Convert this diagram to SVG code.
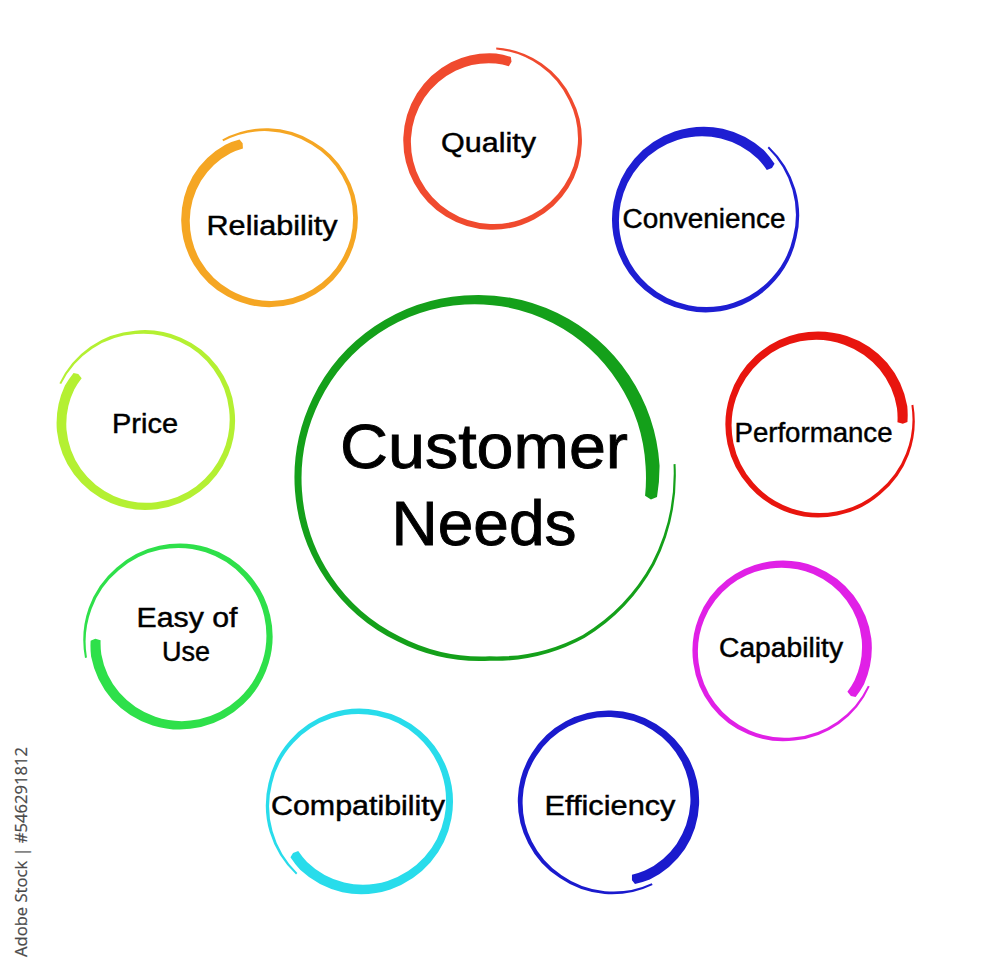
<svg xmlns="http://www.w3.org/2000/svg" xmlns:xlink="http://www.w3.org/1999/xlink" width="1000" height="969" viewBox="0 0 1000 969">
<style>
.lbl{font-family:"Liberation Sans",Arial,sans-serif;font-size:27px;fill:#000;stroke:#000;stroke-width:0.45px;text-anchor:middle}
.big{font-family:"Liberation Sans",Arial,sans-serif;font-size:63px;fill:#000;stroke:#000;stroke-width:0.9px;text-anchor:middle}
.wm{font-family:"Open Sans","DejaVu Sans",sans-serif;font-size:16.5px;fill:#4a4a4a;stroke:#4a4a4a;stroke-width:0.2px}
</style>
<defs>
<path id="brush" d="M97.5,0 A96.5,96.5 0 0 1 82.7,47.75 A94.4,94.4 0 0 1 46.63,80.76 A92.9,92.9 0 0 1 0,92.6 A92.5,92.5 0 0 1 -46.25,80.11 A92.4,92.4 0 0 1 -79.89,46.13 A92.4,92.4 0 0 1 -92.5,0 A92.6,92.6 0 0 1 -80.32,-46.38 A92.9,92.9 0 0 1 -46.55,-80.63 A93.3,93.3 0 0 1 0,-93.5 A93.5,93.5 0 0 1 46.75,-80.97 A93.2,93.2 0 0 1 80.54,-46.5 A92.1,92.1 0 0 1 91.25,0 A90.4,90.4 0 0 1 88.14,15.54 L83.2,16.4 L78.29,13.8 A80.1,80.1 0 0 0 80.75,0 A81.9,81.9 0 0 0 71.88,-41.5 A83.7,83.7 0 0 0 42.25,-73.18 A85,85 0 0 0 0,-85.5 A85.7,85.7 0 0 0 -42.95,-74.39 A86.1,86.1 0 0 0 -74.69,-43.13 A86.4,86.4 0 0 0 -86.5,0 A86.6,86.6 0 0 0 -75.13,43.38 A87.1,87.1 0 0 0 -43.75,75.78 A87.9,87.9 0 0 0 0,88.4 A89.1,89.1 0 0 0 44.88,77.72 A91.1,91.1 0 0 0 80.11,46.25 A94,94 0 0 0 95.5,0 Z"/>
</defs>
<rect width="1000" height="969" fill="#fff"/>

<g id="node-customer-needs">
<path fill="#14a01a" transform="translate(477,478) rotate(-4)" d="M199,0 A198.2,198.2 0 0 1 171.04,98.75 A195,195 0 0 1 96.38,166.93 A188,188 0 0 1 0,183.25 A182.5,182.5 0 0 1 -90.88,157.4 A181.9,181.9 0 0 1 -157.61,91 A182.2,182.2 0 0 1 -182.5,0 A182.6,182.6 0 0 1 -158.26,-91.38 A182.9,182.9 0 0 1 -91.5,-158.48 A183,183 0 0 1 0,-183 A183.2,183.2 0 0 1 91.75,-158.91 A183.5,183.5 0 0 1 158.92,-91.75 A183.2,183.2 0 0 1 183,0 A182,182 0 0 1 178.25,31.42 L172,33.5 L166.43,29.34 A169,169 0 0 0 169,0 A169.7,169.7 0 0 0 147.66,-85.25 A171.5,171.5 0 0 0 86.25,-149.39 A173.2,173.2 0 0 0 0,-174 A174.5,174.5 0 0 0 -87.5,-151.55 A175.1,175.1 0 0 0 -151.77,-87.63 A175.4,175.4 0 0 0 -175.5,0 A175.7,175.7 0 0 0 -152.42,88 A176.1,176.1 0 0 0 -88.13,152.64 A177.5,177.5 0 0 0 0,178.75 A184,184 0 0 0 94.63,163.89 A191.9,191.9 0 0 0 168.44,97.25 A195.7,195.7 0 0 0 197,0 Z"/>
<text class="big" x="484" y="468" textLength="288" lengthAdjust="spacingAndGlyphs">Customer</text>
<text class="big" x="484" y="545" textLength="185" lengthAdjust="spacingAndGlyphs">Needs</text>
</g>

<g id="node-quality">
<use xlink:href="#brush" href="#brush" fill="#f04a2e" transform="translate(493,141) rotate(-88) scale(0.96)"/>
<text class="lbl" x="488.5" y="152" textLength="95" lengthAdjust="spacingAndGlyphs">Quality</text>
</g>

<g id="node-reliability">
<use xlink:href="#brush" href="#brush" fill="#f5a623" transform="translate(270,219) rotate(-121) scale(0.95)"/>
<text class="lbl" x="272" y="235" textLength="131" lengthAdjust="spacingAndGlyphs">Reliability</text>
</g>

<g id="node-convenience">
<use xlink:href="#brush" href="#brush" fill="#1e1ed2" transform="translate(705,220) rotate(-49)"/>
<text class="lbl" x="704" y="228" textLength="163" lengthAdjust="spacingAndGlyphs">Convenience</text>
</g>

<g id="node-performance">
<use xlink:href="#brush" href="#brush" fill="#e8150e" transform="translate(818,425) rotate(-12)"/>
<text class="lbl" x="813.5" y="442" textLength="158" lengthAdjust="spacingAndGlyphs">Performance</text>
</g>

<g id="node-capability">
<use xlink:href="#brush" href="#brush" fill="#e020e6" transform="translate(782,651) rotate(22) scale(0.97)"/>
<text class="lbl" x="781" y="657" textLength="124" lengthAdjust="spacingAndGlyphs">Capability</text>
</g>

<g id="node-efficiency">
<use xlink:href="#brush" href="#brush" fill="#1a1acd" transform="translate(608,801) rotate(62) scale(0.975)"/>
<text class="lbl" x="610" y="815" textLength="131" lengthAdjust="spacingAndGlyphs">Efficiency</text>
</g>

<g id="node-compatibility">
<use xlink:href="#brush" href="#brush" fill="#28dceb" transform="translate(360,801) rotate(131)"/>
<text class="lbl" x="358" y="815" textLength="174" lengthAdjust="spacingAndGlyphs">Compatibility</text>
</g>

<g id="node-easy-of-use">
<use xlink:href="#brush" href="#brush" fill="#2ee04a" transform="translate(180,636) rotate(167)"/>
<text class="lbl" x="187" y="627" textLength="101" lengthAdjust="spacingAndGlyphs">Easy of</text>
<text class="lbl" x="186" y="661" textLength="48" lengthAdjust="spacingAndGlyphs">Use</text>
</g>

<g id="node-price">
<use xlink:href="#brush" href="#brush" fill="#b4f032" transform="translate(146,420) rotate(203) scale(0.965)"/>
<text class="lbl" x="145" y="433" textLength="66" lengthAdjust="spacingAndGlyphs">Price</text>
</g>

<text class="wm" transform="translate(27,957) rotate(-90)" textLength="210" lengthAdjust="spacingAndGlyphs">Adobe Stock | #546291812</text>
</svg>
